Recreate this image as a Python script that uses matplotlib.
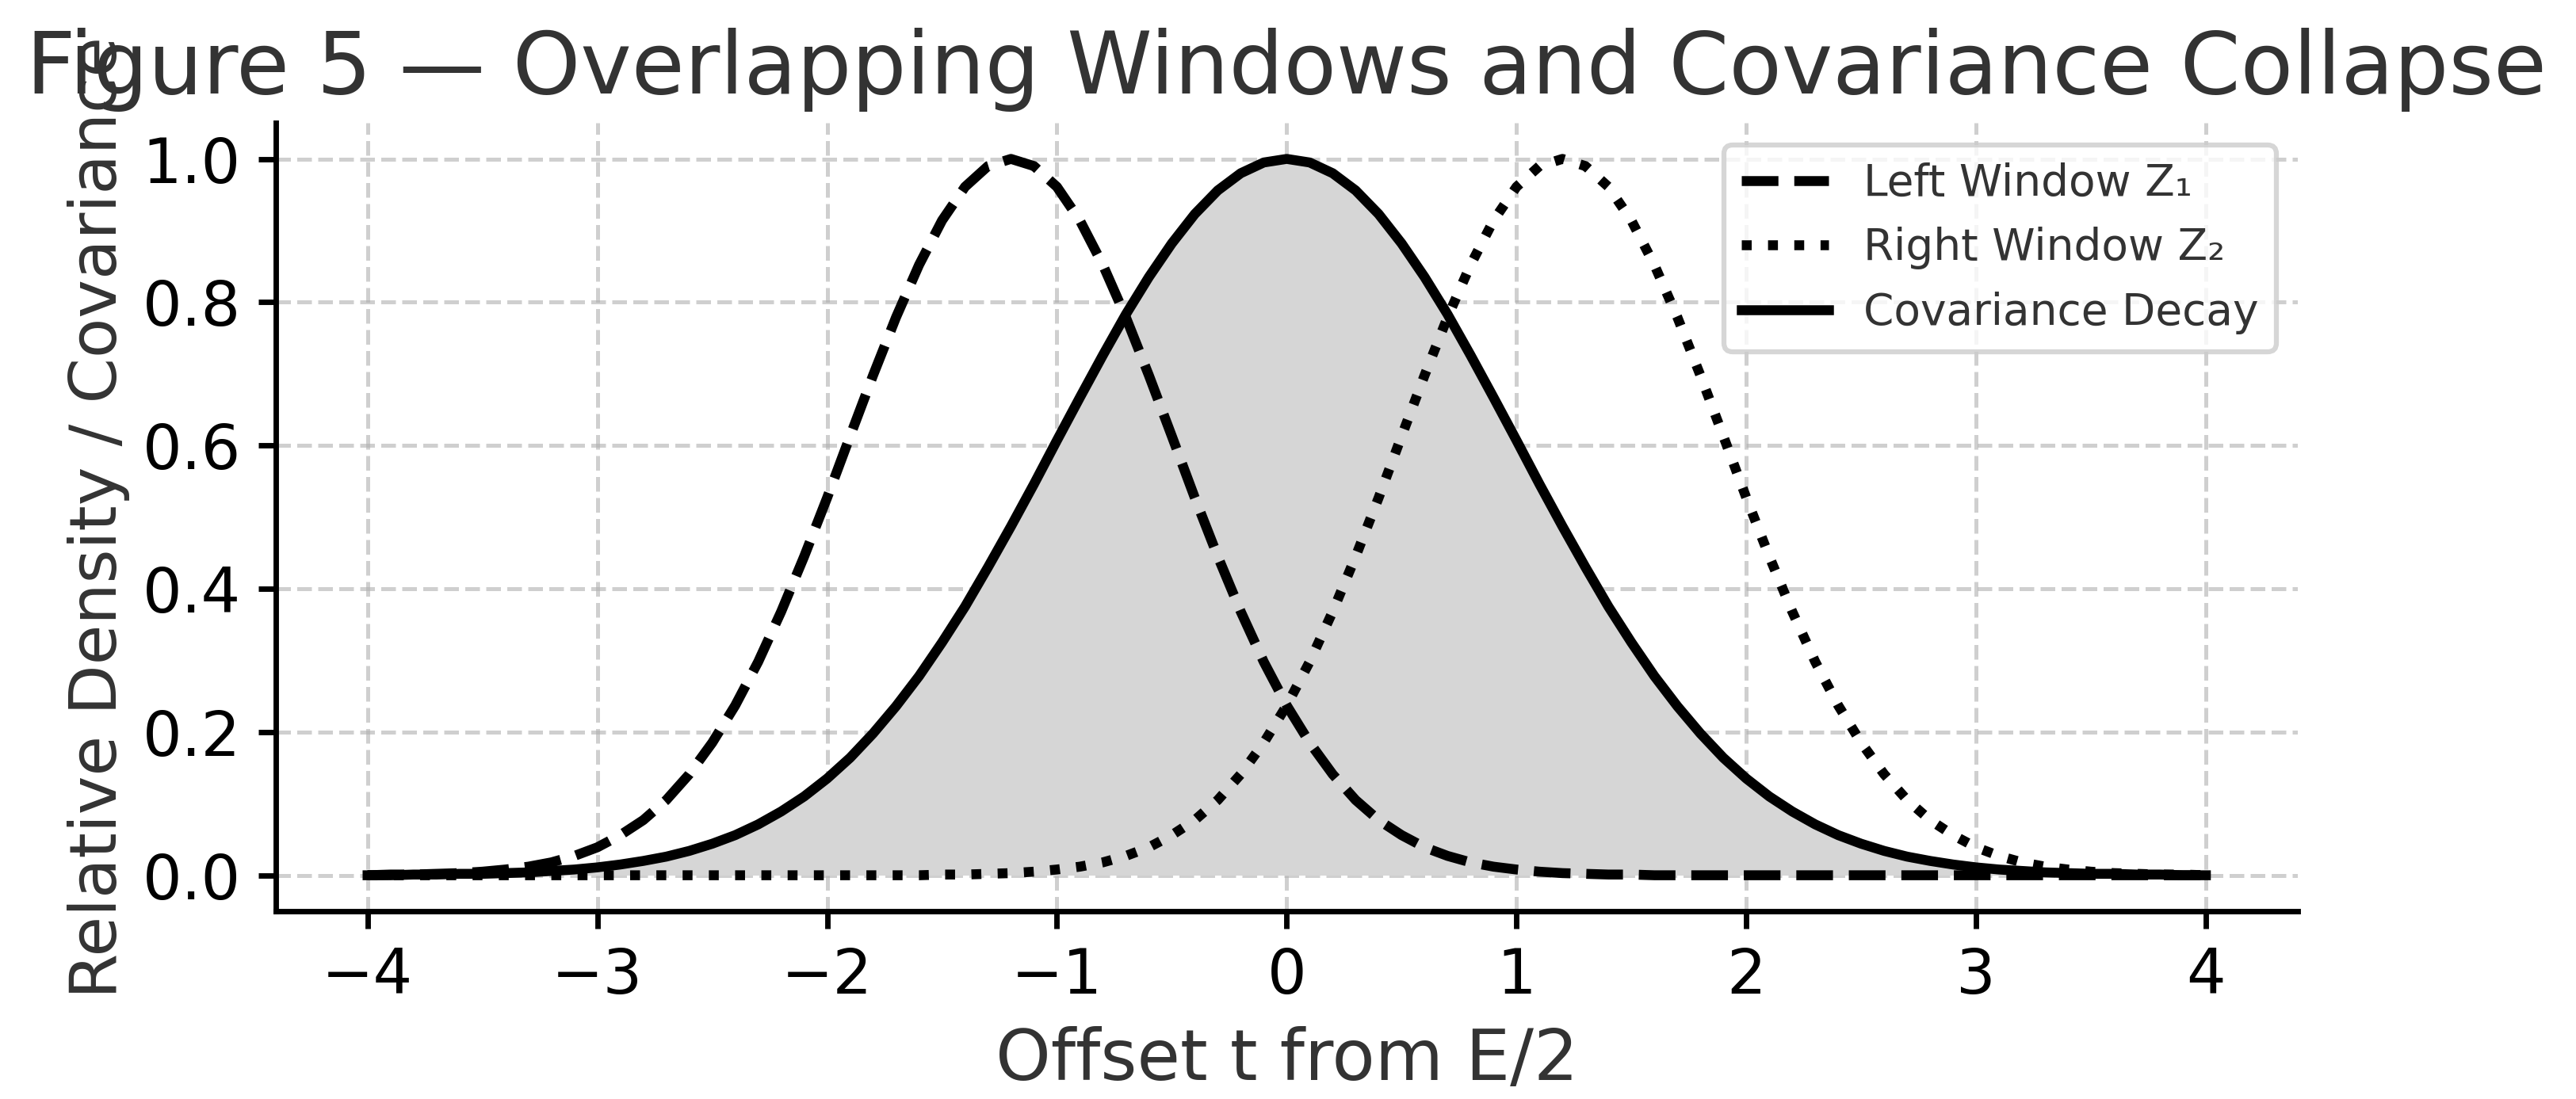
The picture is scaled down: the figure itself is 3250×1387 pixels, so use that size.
import matplotlib
matplotlib.use("Agg")
import matplotlib.pyplot as plt
import numpy as np

# Offset grid (t from E/2), read at 0.1 steps
t_values = [round(-4.0 + 0.1 * i, 1) for i in range(81)]

left_window = [
    0.000, 0.001, 0.001, 0.002, 0.003, 0.005, 0.008, 0.012, 0.018, 0.027,
    0.039, 0.056, 0.077, 0.105, 0.141, 0.185, 0.237, 0.298, 0.368, 0.445,
    0.527, 0.613, 0.698, 0.779, 0.852, 0.914, 0.961, 0.990, 1.000, 0.990,
    0.961, 0.914, 0.852, 0.779, 0.698, 0.613, 0.527, 0.445, 0.368, 0.298,
    0.237, 0.185, 0.141, 0.105, 0.077, 0.056, 0.039, 0.027, 0.018, 0.012,
    0.008, 0.005, 0.003, 0.002, 0.001, 0.001, 0.000, 0.000, 0.000, 0.000,
    0.000, 0.000, 0.000, 0.000, 0.000, 0.000, 0.000, 0.000, 0.000, 0.000,
    0.000, 0.000, 0.000, 0.000, 0.000, 0.000, 0.000, 0.000, 0.000, 0.000,
    0.000,
]

right_window = [
    0.000, 0.000, 0.000, 0.000, 0.000, 0.000, 0.000, 0.000, 0.000, 0.000,
    0.000, 0.000, 0.000, 0.000, 0.000, 0.000, 0.000, 0.000, 0.000, 0.000,
    0.000, 0.000, 0.000, 0.000, 0.000, 0.001, 0.001, 0.002, 0.003, 0.005,
    0.008, 0.012, 0.018, 0.027, 0.039, 0.056, 0.077, 0.105, 0.141, 0.185,
    0.237, 0.298, 0.368, 0.445, 0.527, 0.613, 0.698, 0.779, 0.852, 0.914,
    0.961, 0.990, 1.000, 0.990, 0.961, 0.914, 0.852, 0.779, 0.698, 0.613,
    0.527, 0.445, 0.368, 0.298, 0.237, 0.185, 0.141, 0.105, 0.077, 0.056,
    0.039, 0.027, 0.018, 0.012, 0.008, 0.005, 0.003, 0.002, 0.001, 0.001,
    0.000,
]

covariance = [
    0.000, 0.000, 0.001, 0.001, 0.002, 0.002, 0.003, 0.004, 0.006, 0.008,
    0.011, 0.015, 0.020, 0.026, 0.034, 0.044, 0.056, 0.071, 0.089, 0.110,
    0.135, 0.164, 0.198, 0.236, 0.278, 0.325, 0.375, 0.430, 0.487, 0.546,
    0.607, 0.667, 0.726, 0.783, 0.835, 0.882, 0.923, 0.956, 0.980, 0.995,
    1.000, 0.995, 0.980, 0.956, 0.923, 0.882, 0.835, 0.783, 0.726, 0.667,
    0.607, 0.546, 0.487, 0.430, 0.375, 0.325, 0.278, 0.236, 0.198, 0.164,
    0.135, 0.110, 0.089, 0.071, 0.056, 0.044, 0.034, 0.026, 0.020, 0.015,
    0.011, 0.008, 0.006, 0.004, 0.003, 0.002, 0.002, 0.001, 0.001, 0.000,
    0.000,
]

labels = ["Left Window Z₁", "Right Window Z₂", "Covariance Decay"]
title = "Figure 5 — Overlapping Windows and Covariance Collapse"
xlabel = "Offset t from E/2"
ylabel = "Relative Density / Covariance"

DPI = 450
fig = plt.figure(figsize=(3250 / DPI, 1387 / DPI), dpi=DPI)
ax = fig.add_axes([0.107, 0.171, 0.785, 0.717])

text_color = "#333333"

ax.fill_between(t_values, covariance, 0, color="#d6d6d6", linewidth=0)
ax.plot(t_values, left_window, color="black", linestyle="--", linewidth=2.0, label=labels[0])
ax.plot(t_values, right_window, color="black", linestyle=":", linewidth=2.0, label=labels[1])
ax.plot(t_values, covariance, color="black", linestyle="-", linewidth=2.0, label=labels[2])

ax.set_title(title, fontsize=17.4, color=text_color)
ax.set_xlabel(xlabel, fontsize=14.2, color=text_color)
ax.set_ylabel(ylabel, fontsize=13.2, color=text_color, labelpad=2.5)
ax.tick_params(labelsize=12.5, colors="black", labelcolor="black", width=1.1)
ax.set_xticks([-4, -3, -2, -1, 0, 1, 2, 3, 4])
ax.set_yticks([0.0, 0.2, 0.4, 0.6, 0.8, 1.0])

ax.grid(True, linestyle="--", color="#b0b0b0", alpha=0.6, linewidth=0.8)
ax.set_axisbelow(True)
for s in ("top", "right"):
    ax.spines[s].set_visible(False)
for s in ("left", "bottom"):
    ax.spines[s].set_linewidth(1.1)

leg = ax.legend(loc="upper right", fontsize=8.8, frameon=True)
for txt in leg.get_texts():
    txt.set_color(text_color)

fig.savefig("out.png", dpi=DPI)
